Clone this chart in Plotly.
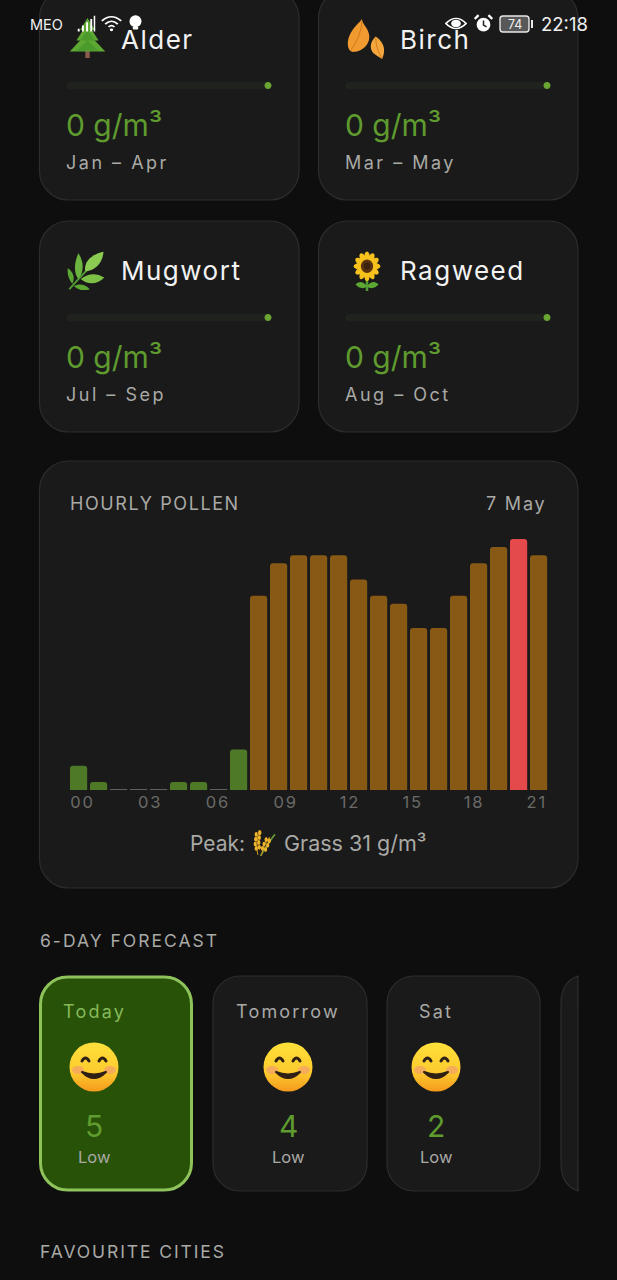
import base64
import plotly.graph_objects as go

W, H = 617, 1280
FONT = "Inter"

hours = list(range(24))
pollen = [3, 1, 0, 0, 0, 1, 1, 0, 5, 24, 28, 29, 29, 29, 26, 24, 23, 20, 20, 24, 28, 30, 31, 29]
tick_labels = ["00", "03", "06", "09", "12", "15", "18", "21"]
tick_pos = [0.19, 3.58, 6.96, 10.35, 13.57, 16.7, 19.77, 22.91]

plant_names = ["Alder", "Birch", "Mugwort", "Ragweed"]
plant_values = ["0 g/m³", "0 g/m³", "0 g/m³", "0 g/m³"]
plant_seasons = ["Jan – Apr", "Mar – May", "Jul – Sep", "Aug – Oct"]

forecast_days = ["Today", "Tomorrow", "Sat"]
forecast_scores = ["5", "4", "2"]
forecast_levels = ["Low", "Low", "Low"]

BG = "#0e0e0e"
CARD = "#1a1a1a"
BORDER = "#2d2d2d"
GREEN = "#5f9b2e"
GREY = "#a9a9a6"


def px(x):
    return x / W


def py(y):
    return 1 - y / H


def round_rect(x0, y0, x1, y1, r):
    # rounded box, given in screen pixels
    p = lambda x, y: f"{px(x):.5f},{py(y):.5f}"
    k = r * 0.45
    return (f"M{p(x0 + r, y0)} L{p(x1 - r, y0)} C{p(x1 - k, y0)} {p(x1, y0 + k)} {p(x1, y0 + r)} "
            f"L{p(x1, y1 - r)} C{p(x1, y1 - k)} {p(x1 - k, y1)} {p(x1 - r, y1)} L{p(x0 + r, y1)} "
            f"C{p(x0 + k, y1)} {p(x0, y1 - k)} {p(x0, y1 - r)} L{p(x0, y0 + r)} "
            f"C{p(x0, y0 + k)} {p(x0 + k, y0)} {p(x0 + r, y0)} Z")


shapes = []
annotations = []
images = []


def card(x0, y0, x1, y1, r=29, fill=CARD, line=BORDER, width=1.2):
    shapes.append(dict(type="path", xref="paper", yref="paper", path=round_rect(x0, y0, x1, y1, r),
                       fillcolor=fill, line=dict(color=line, width=width), layer="below"))


def label(x, y, s, size, color, anchor="left", spacing=0.0):
    annotations.append(dict(xref="paper", yref="paper", x=px(x), y=py(y), showarrow=False,
                            text=f'<span style="letter-spacing:{spacing}px">{s}</span>',
                            xanchor=anchor, yanchor="middle", align=anchor, borderpad=0, borderwidth=0,
                            font=dict(family=FONT, size=size, color=color)))


def icon(svg, x, y, w, h):
    uri = "data:image/svg+xml;base64," + base64.b64encode(
        f'<svg xmlns="http://www.w3.org/2000/svg" viewBox="0 0 100 100">{svg}</svg>'.encode()).decode()
    images.append(dict(source=uri, xref="paper", yref="paper", x=px(x), y=py(y), sizex=w / W, sizey=h / H,
                       xanchor="left", yanchor="top", sizing="stretch", layer="above"))


TREE = ('<rect x="44" y="82" width="12" height="18" fill="#8a5a4a"/>'
        '<path d="M50 0 L70 30 L62 30 L80 56 L70 56 L98 84 L2 84 L30 56 L20 56 L38 30 L30 30 Z" fill="#5da832"/>'
        '<path d="M50 30 L70 56 L30 56 Z M50 56 L80 82 L20 82 Z" fill="#4b9a2c"/>')
LEAVES = ('<path d="M38 0 C34 10 4 26 2 62 C2 76 10 84 18 82 C44 80 62 58 56 36 C52 20 40 14 38 0 Z" fill="#f09a30"/>'
          '<path d="M38 6 C38 30 26 56 10 78" stroke="#c9711a" stroke-width="2" fill="none"/>'
          '<path d="M74 44 C62 54 56 70 66 84 C74 92 84 96 90 100 C98 84 100 62 74 44 Z" fill="#f2a63c"/>'
          '<path d="M74 48 C74 66 80 84 90 98" stroke="#c9711a" stroke-width="2" fill="none"/>')
HERB = ('<path d="M6 98 C30 72 50 50 80 24" stroke="#4f9a33" stroke-width="5" fill="none"/>'
        '<path d="M30 72 C18 58 18 30 30 6 C44 26 46 52 30 72 Z" fill="#6cb33f"/>'
        '<path d="M48 52 C44 30 60 10 96 2 C94 30 76 50 48 52 Z" fill="#8ccb52"/>'
        '<path d="M14 84 C6 74 0 60 2 44 C16 52 22 68 14 84 Z" fill="#5da832"/>'
        '<path d="M36 72 C56 56 78 56 98 68 C82 86 54 88 36 72 Z" fill="#7cc046"/>'
        '<path d="M18 90 C32 82 50 86 60 98 C44 104 28 100 18 90 Z" fill="#5da832"/>')
petals = "".join(f'<ellipse cx="50" cy="17" rx="8" ry="16" fill="#f8c21c" transform="rotate({a} 50 38)"/>'
                 for a in range(0, 360, 30))
SUN = ('<path d="M50 60 L50 100" stroke="#4f9a33" stroke-width="7"/>'
       '<path d="M50 88 C38 74 26 76 18 84 C28 94 42 96 50 88 Z M50 88 C62 74 74 76 82 84 C72 94 58 96 50 88 Z" fill="#5da832"/>'
       + petals + '<circle cx="50" cy="38" r="17" fill="#5a3410"/><circle cx="50" cy="38" r="9" fill="#3c220a"/>')
GRASS = ('<path d="M40 100 C60 70 78 40 96 20" stroke="#6d9a3a" stroke-width="6" fill="none"/>'
         '<path d="M30 96 C24 66 26 34 36 4" stroke="#c98f1c" stroke-width="4" fill="none"/>'
         '<path d="M44 98 C48 72 58 50 76 30" stroke="#c98f1c" stroke-width="4" fill="none"/>'
         + "".join(f'<ellipse cx="{x}" cy="{y}" rx="6" ry="9" fill="#efb52c"/>'
                   for x, y in [(24, 20), (38, 14), (22, 38), (36, 32), (20, 56), (34, 50), (24, 72), (36, 68),
                                (62, 40), (74, 44), (54, 56), (68, 60), (48, 72), (60, 76)]))
SMILE = ('<defs><linearGradient id="g" x1="0" y1="0" x2="0" y2="1"><stop offset="0" stop-color="#ffe03a"/>'
         '<stop offset="0.6" stop-color="#fdcb2e"/><stop offset="1" stop-color="#f59a1c"/></linearGradient></defs>'
         '<circle cx="50" cy="50" r="49" fill="url(#g)"/>'
         '<ellipse cx="18" cy="56" rx="12" ry="8" fill="#f2a06a" opacity="0.75"/>'
         '<ellipse cx="82" cy="56" rx="12" ry="8" fill="#f2a06a" opacity="0.75"/>'
         '<path d="M26 38 Q33 26 40 38 M60 38 Q67 26 74 38" stroke="#2e2014" stroke-width="6" fill="none" stroke-linecap="round"/>'
         '<path d="M26 60 Q50 84 74 60 Q50 70 26 60 Z" fill="#2e2014" stroke="#2e2014" stroke-width="4" stroke-linejoin="round"/>')

plant_icons = [TREE, LEAVES, HERB, SUN]
icon_boxes = [(69, 18, 37, 40), (347, 19, 39, 40), (67, 251, 38, 39), (349, 251, 36, 40)]

# plant cards
card_boxes = [(39.5, -11, 299, 200), (318.5, -11, 578, 200), (39.5, 221, 299, 432), (318.5, 221, 578, 432)]
for i, (x0, y0, x1, y1) in enumerate(card_boxes):
    card(x0, y0, x1, y1)
    tx = x0 + 26.5
    shapes.append(dict(type="path", xref="paper", yref="paper", path=round_rect(tx, y0 + 93, x0 + 232, y0 + 100, 3.5),
                       fillcolor="#20231d", line=dict(width=0), layer="below"))
    shapes.append(dict(type="path", xref="paper", yref="paper",
                       path=round_rect(x0 + 225, y0 + 93, x0 + 232, y0 + 100, 3.5),
                       fillcolor="#6aa632", line=dict(width=0), layer="below"))
    label(x0 + 81.5, y0 + 50, plant_names[i], 26, "#f2f2f2", spacing=1.5)
    label(tx, y0 + 136, plant_values[i], 30, GREEN)
    label(tx, y0 + 173, plant_seasons[i], 18, GREY, spacing=2.5)
    icon(plant_icons[i], *icon_boxes[i])

# hourly chart card
card(39.5, 461, 578, 888)
label(70, 503, "HOURLY POLLEN", 18, GREY, spacing=1.6)
label(546, 503, "7 May", 18, GREY, anchor="right", spacing=1.8)
label(190, 843, "Peak:", 21, GREY)
icon(GRASS, 250, 829, 26, 27)
label(284, 843, "Grass 31 g/m³", 21.5, GREY)

# forecast strip
label(40, 940, "6-DAY FORECAST", 17.5, GREY, spacing=2)
label(40, 1251, "FAVOURITE CITIES", 17.5, GREY, spacing=1.9)
card(40.5, 977, 191.5, 1190, r=27, fill="#275207", line="#8dc35a", width=3)
card(213, 976, 367, 1191, r=27)
card(387, 976, 540, 1191, r=27)
shapes.append(dict(type="path", xref="paper", yref="paper",
                   path=(f"M{px(578):.5f},{py(976):.5f} Q{px(561):.5f},{py(982):.5f} {px(561):.5f},{py(1003):.5f} "
                         f"L{px(561):.5f},{py(1164):.5f} Q{px(561):.5f},{py(1185):.5f} {px(578):.5f},{py(1191):.5f} Z"),
                   fillcolor=CARD, line=dict(color=BORDER, width=1.2), layer="below"))
day_x = [94, 288, 436]
day_colors = ["#86b95a", GREY, GREY]
for i, x in enumerate(day_x):
    label(x, 1011, forecast_days[i], 18, day_colors[i], anchor="center", spacing=2.2)
    icon(SMILE, x - 25, 1042, 50, 50)
    label(x, 1126, forecast_scores[i], 30, GREEN, anchor="center")
    label(x, 1157, forecast_levels[i], 16.5, GREY, anchor="center")

# status bar
label(30, 24, "MEO", 14.5, "#f0f0f0")
label(588, 24, "22:18", 18.5, "#f0f0f0", anchor="right")
icon('<path d="M4 92V76H14V92Z M26 92V58H36V92Z M48 92V40H58V92Z M70 92V22H80V92Z M88 92V4H96V92Z" fill="#fff"/>',
     77, 15, 19, 18)
icon('<path d="M4 38 Q50 -8 96 38 M20 56 Q50 24 80 56 M36 72 Q50 58 64 72" stroke="#fff" stroke-width="9" fill="none"/>'
     '<circle cx="50" cy="88" r="8" fill="#fff"/>', 101, 14, 21, 18)
icon('<circle cx="50" cy="42" r="40" fill="#fff"/><rect x="32" y="78" width="36" height="18" rx="6" fill="#fff"/>',
     128, 15, 15, 15)
icon('<path d="M4 50 Q50 -10 96 50 Q50 110 4 50 Z" fill="none" stroke="#fff" stroke-width="8"/>'
     '<circle cx="50" cy="50" r="22" fill="#fff"/>', 445, 15, 22, 17)
icon('<circle cx="50" cy="56" r="36" fill="#fff"/><path d="M50 34V58L66 68" stroke="#222" stroke-width="8" fill="none"/>'
     '<path d="M4 26 L24 6 M96 26 L76 6" stroke="#fff" stroke-width="12"/>', 474, 14, 19, 19)
shapes.append(dict(type="path", xref="paper", yref="paper", path=round_rect(500, 16, 529, 32, 3),
                   fillcolor="rgba(140,140,140,0.55)", line=dict(color="#e8e8e8", width=1.4), layer="above"))
shapes.append(dict(type="rect", xref="paper", yref="paper", x0=px(531), x1=px(533), y0=py(28), y1=py(20),
                   fillcolor="#e8e8e8", line=dict(width=0), layer="above"))
label(514.5, 24, "74", 12.5, "#f0f0f0", anchor="center")

peak = max(pollen)
colors = ["#e4494c" if v == peak else "#885915" if v > 5 else "#4e7a28" for v in pollen]
line_widths = [1 if v == 0 else 0 for v in pollen]

fig = go.Figure(go.Bar(x=hours, y=pollen, marker=dict(color=colors, cornerradius=3.5,
                                                      line=dict(color="#777772", width=line_widths)),
                       hoverinfo="skip"))
fig.update_layout(
    width=W, height=H, margin=dict(l=0, r=0, t=0, b=0), autosize=False,
    paper_bgcolor=BG, plot_bgcolor="rgba(0,0,0,0)", bargap=0.14, showlegend=False,
    shapes=shapes, annotations=annotations, images=images,
    xaxis=dict(domain=[px(68.6), px(548.6)], range=[-0.5, 23.5], showgrid=False, zeroline=False, showline=False,
               tickmode="array", tickvals=tick_pos,
               ticktext=[f'<span style="letter-spacing:1.8px">{t}</span>' for t in tick_labels],
               ticks="", tickangle=0, tickfont=dict(family=FONT, size=16.5, color="#6a6a68")),
    yaxis=dict(domain=[py(790), py(539)], range=[0, peak], visible=False),
)
fig.write_html("out.html", config=dict(displayModeBar=False),
               post_script="document.body.style.margin='0';")
